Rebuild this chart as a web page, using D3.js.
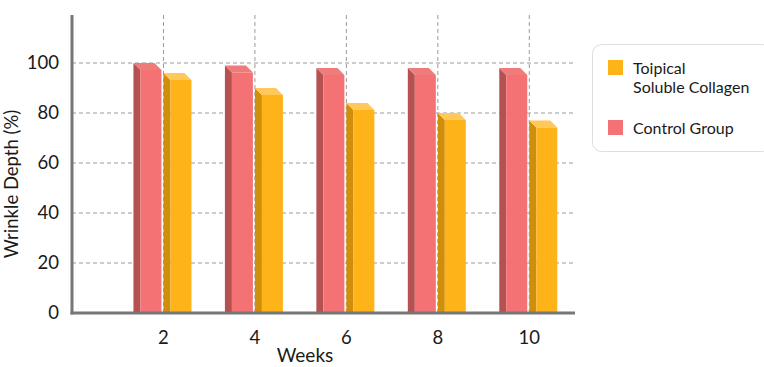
<!DOCTYPE html>
<html>
<head>
<meta charset="utf-8">
<script src="https://cdn.jsdelivr.net/npm/d3@7"></script>
<style>
  body { margin: 0; background: #fff; }
  text { font-family: Lato, "Noto Sans", sans-serif; fill: #1a1a1a; }
</style>
</head>
<body>
<div id="chart"></div>
<script>
const weeks = [2, 4, 6, 8, 10];
const control = [100, 99, 98, 98, 98];
const collagen = [96, 90, 84, 80, 77];
const yTicks = [0, 20, 40, 60, 80, 100];

const W = 764, H = 367;
const depth = 7;   // 3d offset of the bars
const colors = {
  control:  {front: "#f57274", side: "#b65152", top: "#ef7b7b"},
  collagen: {front: "#feb319", side: "#cf8e0b", top: "#ffc858"}
};

const svg = d3.select("#chart").append("svg")
    .attr("width", W)
    .attr("height", H);

const x = d3.scaleLinear().domain([0, 11]).range([72, 575]);
const y = d3.scaleLinear().domain([0, 120]).range([313, 13]);
const xSub = d3.scaleBand()
    .domain(["control", "collagen"])
    .range([-30, 28])
    .paddingInner(2 / 30);

// grid
const grid = svg.append("g").attr("class", "grid")
    .attr("stroke", "#9a9a9a")
    .attr("stroke-dasharray", "4,3")
    .attr("stroke-width", 1);
grid.selectAll(".h").data(yTicks.filter(d => d > 0))
  .enter().append("line")
    .attr("x1", x(0)).attr("x2", x(11))
    .attr("y1", d => y(d)).attr("y2", d => y(d));
grid.selectAll(".v").data(weeks)
  .enter().append("line")
    .attr("x1", d => x(d)).attr("x2", d => x(d))
    .attr("y1", y(0)).attr("y2", 15);

// bars
const series = [
  {key: "control", values: control},
  {key: "collagen", values: collagen}
];
series.forEach(function(s) {
  const c = colors[s.key];
  const g = svg.append("g").attr("class", "bars-" + s.key);
  const bw = xSub.bandwidth() - depth;
  weeks.forEach(function(wk, i) {
    const x0 = x(wk) + xSub(s.key);
    const yv = y(s.values[i]);
    const y0 = y(0);
    // side
    g.append("path")
      .attr("d", `M${x0},${yv} L${x0 + depth},${yv + depth} L${x0 + depth},${y0} L${x0},${y0} Z`)
      .attr("fill", c.side);
    // top
    g.append("path")
      .attr("d", `M${x0},${yv} L${x0 + bw},${yv} L${x0 + bw + depth},${yv + depth} L${x0 + depth},${yv + depth} Z`)
      .attr("fill", c.top);
    // front
    g.append("rect")
      .attr("x", x0 + depth)
      .attr("y", yv + depth)
      .attr("width", bw)
      .attr("height", y0 - yv - depth)
      .attr("fill", c.front);
  });
});

// axes
svg.append("line")
    .attr("x1", x(0)).attr("x2", x(0))
    .attr("y1", 15).attr("y2", y(0) + 1.5)
    .attr("stroke", "#777").attr("stroke-width", 3);
svg.append("line")
    .attr("x1", x(0) - 1.5).attr("x2", x(11))
    .attr("y1", y(0)).attr("y2", y(0))
    .attr("stroke", "#777").attr("stroke-width", 3);

svg.append("g").selectAll("text").data(yTicks)
  .enter().append("text")
    .attr("x", x(0) - 13)
    .attr("y", d => y(d))
    .attr("dy", "0.35em")
    .attr("text-anchor", "end")
    .style("font-size", "18.5px")
    .text(d => d);

svg.append("g").selectAll("text").data(weeks)
  .enter().append("text")
    .attr("x", d => x(d))
    .attr("y", 344)
    .attr("text-anchor", "middle")
    .style("font-size", "18.5px")
    .text(d => d);

svg.append("text")
    .attr("x", 305).attr("y", 362)
    .attr("text-anchor", "middle")
    .style("font-size", "19px")
    .text("Weeks");

svg.append("text")
    .attr("transform", "translate(18,184) rotate(-90)")
    .attr("text-anchor", "middle")
    .style("font-size", "18.5px")
    .text("Wrinkle Depth (%)");

// legend
const legend = svg.append("g").attr("class", "legend");
legend.append("rect")
    .attr("x", 592.5).attr("y", 44.5)
    .attr("width", 178).attr("height", 107)
    .attr("rx", 9)
    .attr("fill", "#fff")
    .attr("stroke", "#dedede");
legend.append("rect")
    .attr("x", 608).attr("y", 60).attr("width", 15).attr("height", 15)
    .attr("fill", colors.collagen.front);
legend.append("rect")
    .attr("x", 608).attr("y", 120).attr("width", 15).attr("height", 15)
    .attr("fill", colors.control.front);
legend.append("text").attr("x", 633).attr("y", 74)
    .style("font-size", "16px").text("Toipical");
legend.append("text").attr("x", 633).attr("y", 93)
    .style("font-size", "16px").text("Soluble Collagen");
legend.append("text").attr("x", 633).attr("y", 134)
    .style("font-size", "16px").text("Control Group");
</script>
</body>
</html>
